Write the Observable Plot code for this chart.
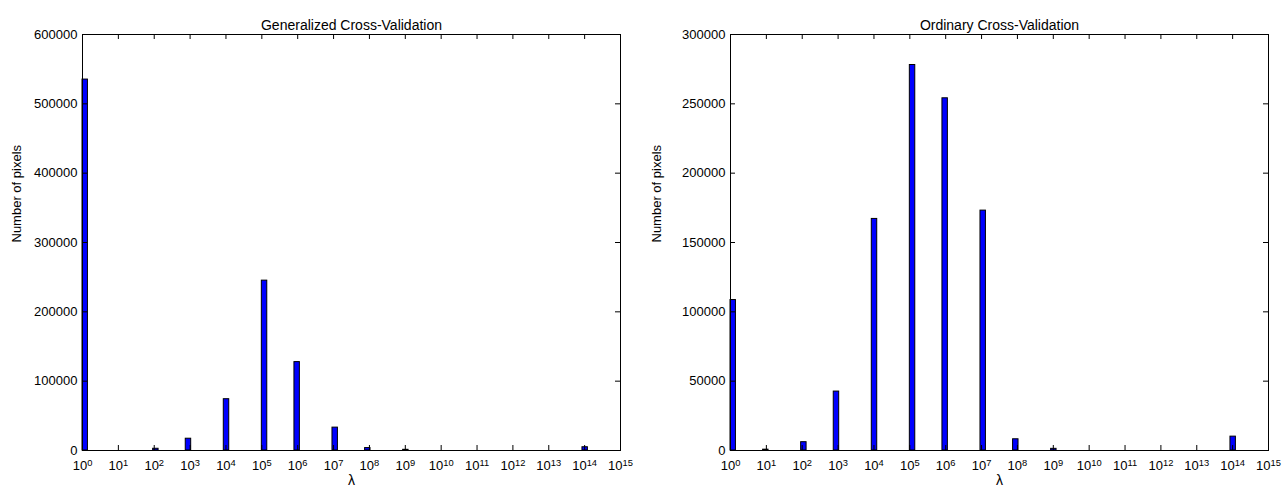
<!DOCTYPE html>
<html><head><meta charset="utf-8">
<script src="https://cdn.jsdelivr.net/npm/d3@7"></script>
<script src="https://cdn.jsdelivr.net/npm/@observablehq/plot@0.6"></script>
<style>
body{margin:0;background:#fff;}
#wrap{display:flex;width:1288px;height:494px;overflow:hidden;}
</style></head><body><div id="wrap"></div>
<script>
const exponents = [0, 1, 2, 3, 4, 5, 6, 7, 8, 9, 14];
const gcvCounts = [535000, 0, 2500, 17000, 74000, 245000, 127500, 33000, 3500, 1000, 4700];
const ocvCounts = [108500, 600, 6000, 42500, 167000, 278000, 254000, 173000, 8100, 1200, 10000];
const xTickExponents = [0,1,2,3,4,5,6,7,8,9,10,11,12,13,14,15];
const gcvYTicks = [0, 100000, 200000, 300000, 400000, 500000, 600000];
const ocvYTicks = [0, 50000, 100000, 150000, 200000, 250000, 300000];
const titles = ["Generalized Cross-Validation", "Ordinary Cross-Validation"];
const yLabel = "Number of pixels";
const xLabel = "λ";
const nBins = 99, logSpan = 15;

function chart({counts, yTicks, title, width, marginLeft}) {
  const marginRight = 20, marginTop = 34, marginBottom = 44, height = 494;
  const fw = width - marginLeft - marginRight, fh = height - marginTop - marginBottom;
  const data = exponents.map((k, j) => {
    const i = Math.floor(k * nBins / logSpan + 1e-9);
    return {x1: 10 ** (i * logSpan / nBins), x2: 10 ** ((i + 1) * logSpan / nBins), count: counts[j]};
  }).filter(d => d.count > 0);
  const xt = xTickExponents.map(k => 10 ** k);
  const p = Plot.plot({
    width, height, marginLeft, marginRight, marginTop, marginBottom,
    style: {fontFamily: "'Liberation Sans', Arial, sans-serif", fontSize: "13px", color: "black", background: "white", overflow: "visible"},
    x: {type: "log", domain: [1, 1e15]},
    y: {domain: [0, yTicks[yTicks.length - 1]]},
    marks: [
      Plot.rectY(data, {x1: "x1", x2: "x2", y: "count", fill: "#0000ff", stroke: "black", strokeWidth: 1}),
      Plot.tickY(yTicks, {y: d => d, insetRight: fw - 5, stroke: "black"}),
      Plot.tickY(yTicks, {y: d => d, insetLeft: fw - 5, stroke: "black"}),
      Plot.tickX(xt, {x: d => d, insetTop: fh - 5, stroke: "black"}),
      Plot.tickX(xt, {x: d => d, insetBottom: fh - 5, stroke: "black"}),
      Plot.frame({stroke: "black"}),
      Plot.axisY(yTicks, {tickSize: 0, tickPadding: 5, tickFormat: d => String(d), label: null}),
      Plot.axisX(xt, {tickSize: 0, tickPadding: 10, tickFormat: d => "10^" + Math.round(Math.log10(d)), label: null}),
      Plot.text([title], {text: d => d, frameAnchor: "top", dy: -14, fontSize: 14}),
      Plot.text([yLabel], {text: d => d, frameAnchor: "left", dx: -(marginLeft - 16), rotate: -90, fontSize: 13}),
      Plot.text([xLabel], {text: d => d, frameAnchor: "bottom", dy: 34, fontSize: 14})
    ]
  });
  d3.select(p).selectAll('g[aria-label="x-axis tick label"] text').each(function() {
    const [b, e] = this.textContent.split("^");
    const s = d3.select(this);
    s.text(b);
    s.append("tspan").attr("dy", "-0.4em").attr("font-size", "0.72em").text(e);
  });
  return p;
}

const wrap = document.getElementById("wrap");
wrap.appendChild(chart({counts: gcvCounts, yTicks: gcvYTicks, title: titles[0], width: 640, marginLeft: 82}));
wrap.appendChild(chart({counts: ocvCounts, yTicks: ocvYTicks, title: titles[1], width: 648, marginLeft: 90}));
</script></body></html>
